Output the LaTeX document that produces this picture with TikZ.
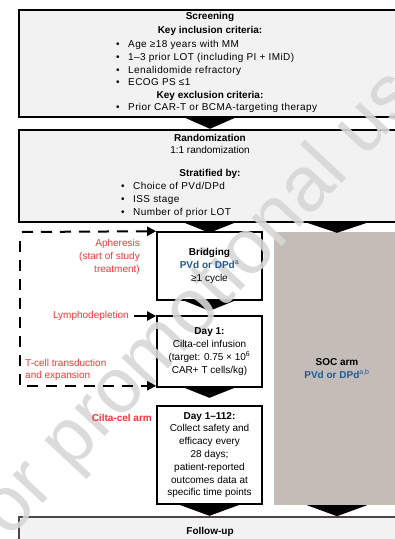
\documentclass[tikz,border=0pt]{standalone}
\usepackage{fontspec}
\setmainfont{Liberation Sans}
\usetikzlibrary{arrows.meta,calc}
\definecolor{boxfill}{HTML}{F2F2F2}
\definecolor{socfill}{HTML}{C4BCB6}
\definecolor{redtxt}{HTML}{FF3333}
\definecolor{bluetxt}{HTML}{1F5A96}
\definecolor{fuline}{HTML}{4D4545}
\definecolor{wmark}{HTML}{D7D7D7}
\newcommand{\bl}[1]{\makebox[12pt][l]{\textbullet}{\addfontfeatures{LetterSpace=4}#1}}
\begin{document}
\begin{tikzpicture}[x=1pt,y=-1pt,font=\fontsize{10}{12.8}\selectfont,
  box/.style={draw=black,line width=1.6pt,fill=white,inner sep=0pt},
  greybox/.style={box,fill=boxfill},
  ln/.style={inner sep=0pt,text height=7.3pt,text depth=2.1pt},
  bul/.style={ln,anchor=west},
  redlab/.style={text=redtxt,inner sep=0pt},
  dsh/.style={line width=2pt,dash pattern=on 11pt off 8pt},
  tip/.style={-{Triangle[length=9pt,width=9pt]}},
  solidarr/.style={line width=2pt,-{Triangle[length=9pt,width=9pt]}}]
\useasboundingbox (0,0) rectangle (395,539);
\clip (0,0) rectangle (395,539);
% boxes
\node[greybox,minimum width=382pt,minimum height=107pt] (scr) at (210,63.5) {};
\node[greybox,minimum width=382pt,minimum height=92pt] (rand) at (210,176) {};
\node[box,minimum width=105pt,minimum height=68pt] (brg) at (209.5,266) {};
\node[box,minimum width=105pt,minimum height=71pt] (day1) at (209.5,351.5) {};
\node[box,minimum width=105pt,minimum height=98pt] (d112) at (209.5,455) {};
\node[fill=socfill,inner sep=0pt,minimum width=126pt,minimum height=273pt] (soc) at (337,368.5) {};
\node[draw=fuline,line width=1.6pt,fill=boxfill,minimum width=382pt,minimum height=50pt] (fu) at (210,542) {};
% chevrons
\fill (scr.south) ++(-25,0) -- ++(50,0) -- ++(-25,11) -- cycle;
\fill (brg.north |- rand.south) ++(-25,0) -- ++(50,0) -- ++(-25,10) -- cycle;
\fill (soc.north |- rand.south) ++(-30,0) -- ++(60,0) -- ++(-30,10) -- cycle;
\fill (brg.south) ++(-25,0) -- ++(50,0) -- ++(-25,10) -- cycle;
\fill (day1.south) ++(-25,0) -- ++(50,0) -- ++(-25,10) -- cycle;
\fill (d112.south) ++(-30,0) -- ++(60,0) -- ++(-30,11) -- cycle;
\fill (soc.south) ++(-30,0) -- ++(60,0) -- ++(-30,11) -- cycle;
% watermark
\node[rotate=47,anchor=base west,text=wmark,opacity=0.9,inner sep=0pt,
  font=\fontsize{78}{80}\selectfont] (wm) at (-5,555) {for promotional use};
% screening text
\node[ln,font=\bfseries] (s0) at (210,17) {Screening};
\node[ln,font=\bfseries] (s1) at (210,31) {Key inclusion criteria:};
\node[bul] (s2) at (116,45) {\bl{Age ≥18 years with MM}};
\node[bul] (s3) at (116,58) {\bl{1–3 prior LOT (including PI + IMiD)}};
\node[bul] (s4) at (116,71) {\bl{Lenalidomide refractory}};
\node[bul] (s5) at (116,83) {\bl{ECOG PS ≤1}};
\node[ln,font=\bfseries] (s6) at (210,96) {Key exclusion criteria:};
\node[bul] (s7) at (116,108) {\bl{Prior CAR-T or BCMA-targeting therapy}};
% randomization text
\node[ln,font=\bfseries] (r0) at (210,139) {Randomization};
\node[ln] (r1) at (210,151) {1:1 randomization};
\node[ln,font=\bfseries] (r2) at (210,174) {Stratified by:};
\node[bul] (r3) at (121,187) {\bl{Choice of PVd/DPd}};
\node[bul] (r4) at (121,200) {\bl{ISS stage}};
\node[bul] (r5) at (121,213) {\bl{Number of prior LOT}};
% arm box texts
\node[align=center,inner sep=0pt] (bt) at (brg) {\textbf{Bridging}\\\textcolor{bluetxt}{\textbf{PVd or DPd}\textsuperscript{a}}\\≥1 cycle};
\node[align=center,inner sep=0pt] (dt) at (day1) {\textbf{Day 1:}\\Cilta-cel infusion\\(target: 0.75 × 10\textsuperscript{6}\\CAR+ T cells/kg)};
\node[align=center,inner sep=0pt] (d112t) at (d112) {\textbf{Day 1–112:}\\Collect safety and\\efficacy every\\28 days;\\patient-reported\\outcomes data at\\specific time points};
\node[align=center,inner sep=0pt] (soct) at (soc) {\textbf{SOC arm}\\\textcolor{bluetxt}{\textbf{PVd or DPd}\textsuperscript{a,b}}};
\node[ln,font=\bfseries] (fut) at (210,532) {Follow-up};
% red labels
\node[redlab,align=right,anchor=east] (aph) at (140,257) {Apheresis\\(start of study\\treatment)};
\node[redlab,anchor=east] (lym) at (129,316) {Lymphodepletion};
\node[redlab,align=left,anchor=west] (tcell) at (25,370) {T-cell transduction\\and expansion};
\node[redlab,anchor=east,font=\bfseries] (carm) at (152,418) {Cilta-cel arm};
% connectors
\coordinate (dtop) at (22,232);
\coordinate (dcorner) at (20,241);
\draw[dsh,tip] (dtop) -- (brg.north west);
\draw[dsh,tip] (dcorner) |- ($(day1.south west)+(0,-2)$);
\draw[solidarr] ($(lym.east)+(5,0)$) -- (lym.east -| day1.west);
\end{tikzpicture}
\end{document}
